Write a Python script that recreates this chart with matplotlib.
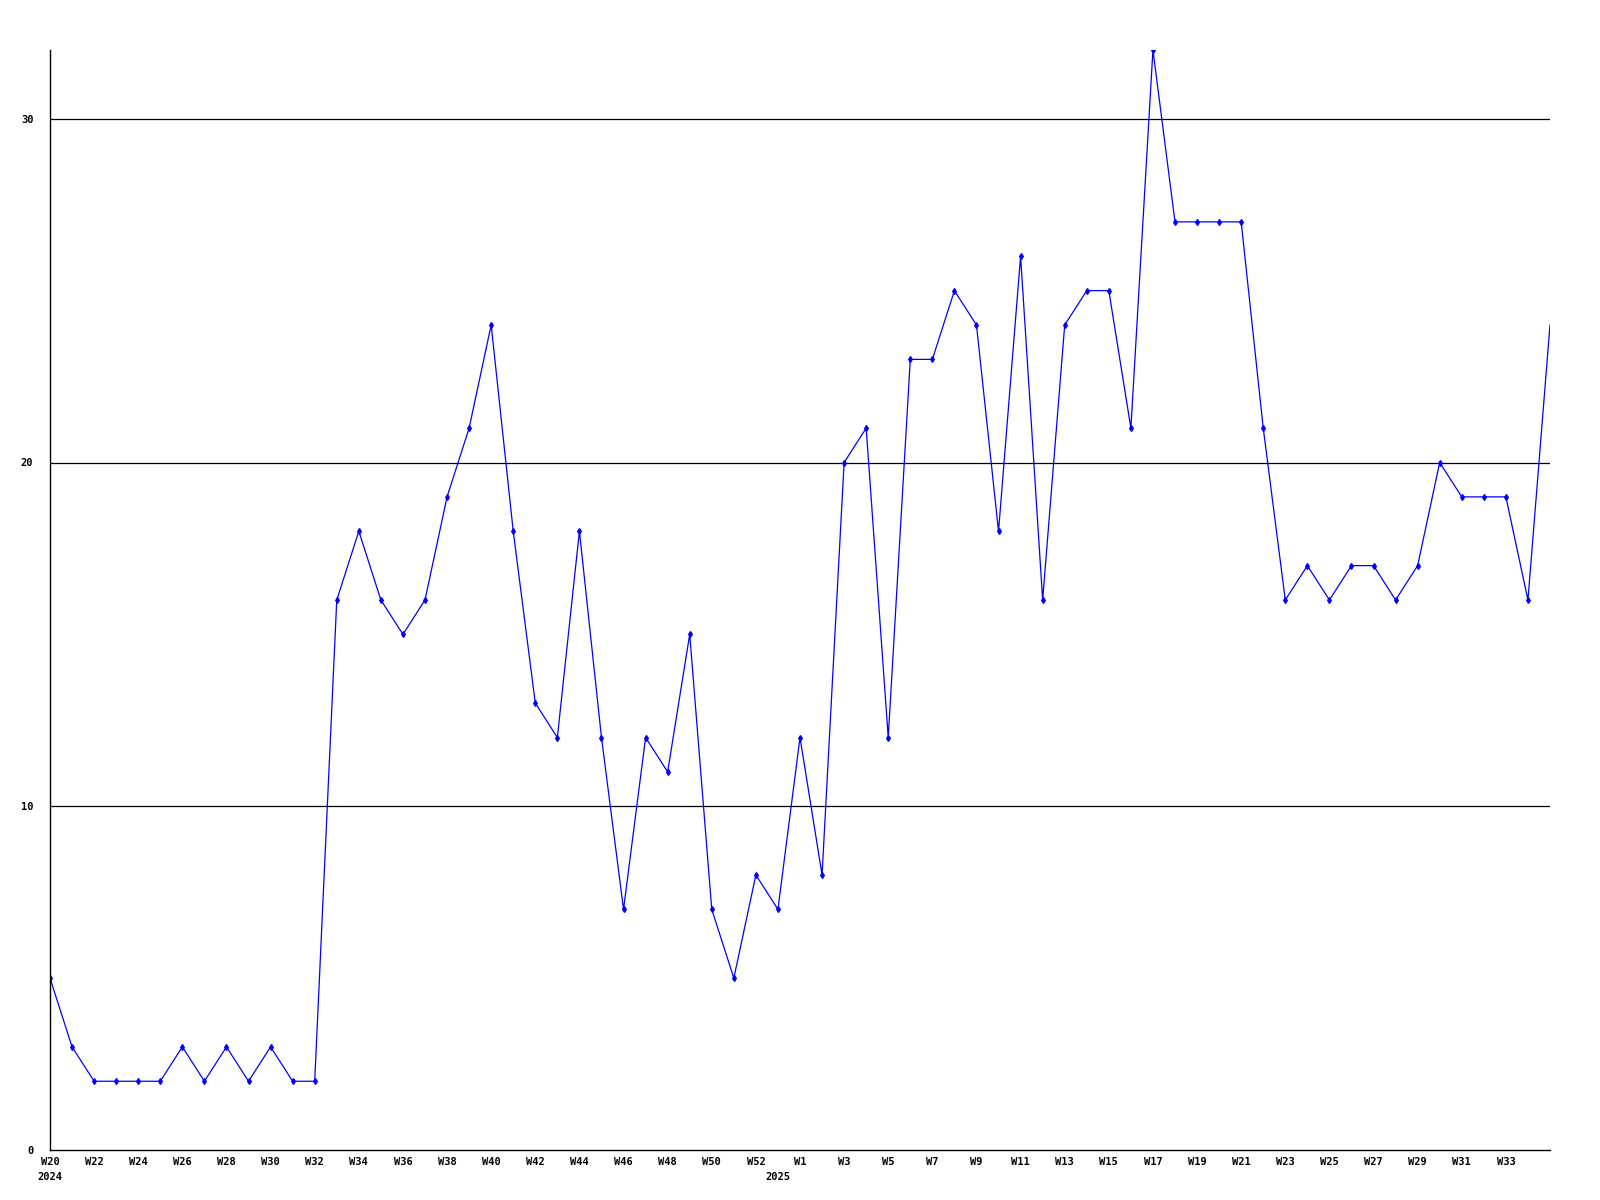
# Weekly counts, W20 2024 to W35 2025
import numpy as np
import matplotlib.pyplot as plt

# values, one per week
counts = [5, 3, 2, 2, 2, 2, 3, 2, 3, 2, 3, 2, 2,
          16, 18, 16, 15, 16, 19, 21, 24, 18, 13, 12, 18, 12, 7, 12, 11, 15, 7, 5, 8, 7,
          12, 8, 20, 21, 12, 23, 23, 25, 24, 18, 26, 16, 24, 25, 25, 21, 32,
          27, 27, 27, 27, 21, 16, 17, 16, 17, 17, 16, 17, 20, 19, 19, 19, 16, 24]

# tick labels every second week
week_labels = ["W20", "W22", "W24", "W26", "W28", "W30", "W32", "W34", "W36", "W38",
               "W40", "W42", "W44", "W46", "W48", "W50", "W52",
               "W1", "W3", "W5", "W7", "W9", "W11", "W13", "W15", "W17", "W19",
               "W21", "W23", "W25", "W27", "W29", "W31", "W33"]
years = ["2024", "2025"]
year_pos = [0, 33]

x = np.arange(len(counts))

fig = plt.figure(figsize=(16, 12), dpi=100)
ax = fig.add_axes([50/1600, 50/1200, 1500/1600, 1100/1200])

# last point sits on the edge, no marker there
ax.plot(x, counts, color='#0000ff', lw=0.9, marker='d', markersize=3,
        markevery=list(range(len(counts) - 1)))

ax.set_xlim(0, len(counts) - 1)
ax.set_ylim(0, 32)
ax.set_yticks([0, 10, 20, 30])
ax.set_yticklabels(['0', '10', '20', '30'])
ax.set_xticks(np.arange(0, 68, 2))
ax.set_xticklabels(week_labels)

for yv in [10, 20, 30]:
    ax.axhline(yv, color='black', lw=0.9, zorder=0)

ax.spines['top'].set_visible(False)
ax.spines['right'].set_visible(False)
ax.spines['left'].set_linewidth(1.0)
ax.spines['bottom'].set_linewidth(1.0)
ax.tick_params(length=0, labelsize=7.5)
ax.tick_params(axis='y', pad=12)
ax.tick_params(axis='x', pad=5)
for lab in ax.get_xticklabels() + ax.get_yticklabels():
    lab.set_family('DejaVu Sans Mono')
    lab.set_weight('bold')

for yr, p in zip(years, year_pos):
    ax.text(p, -0.65, yr, ha='center', va='top', fontsize=7.5,
            family='DejaVu Sans Mono', weight='bold',
            transform=ax.transData)

fig.savefig('out.png', dpi=100)
